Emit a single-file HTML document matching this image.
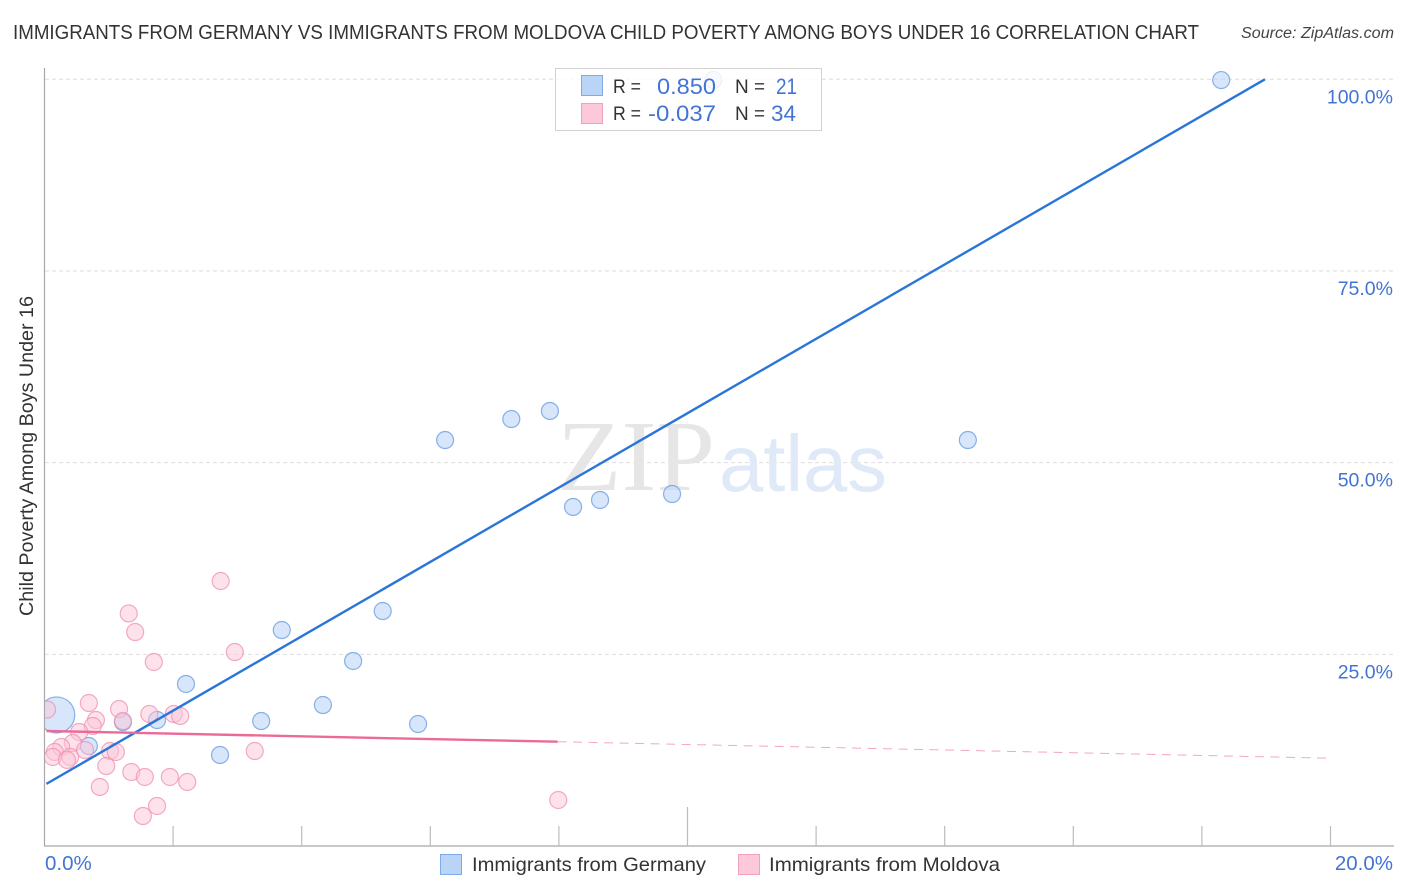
<!DOCTYPE html>
<html lang="en">
<head>
<meta charset="utf-8">
<title>Immigrants from Germany vs Immigrants from Moldova Child Poverty Among Boys Under 16 Correlation Chart</title>
<style>
html,body{margin:0;padding:0;background:#fff;width:1406px;height:892px;overflow:hidden}
svg{display:block;font-family:"Liberation Sans",sans-serif}
</style>
</head>
<body>
<svg id="chart" xmlns="http://www.w3.org/2000/svg" width="1406" height="892" viewBox="0 0 1406 892">
  <defs><clipPath id="plot-clip"><rect x="45" y="60" width="1349" height="786"/></clipPath></defs>
  <rect x="0" y="0" width="1406" height="892" fill="#fff"/>
  <text x="13" y="39" font-size="20" fill="#333" textLength="1186" lengthAdjust="spacingAndGlyphs">IMMIGRANTS FROM GERMANY VS IMMIGRANTS FROM MOLDOVA CHILD POVERTY AMONG BOYS UNDER 16 CORRELATION CHART</text>
  <text x="1241" y="38" font-size="15.5" font-style="italic" fill="#444" textLength="153" lengthAdjust="spacingAndGlyphs">Source: ZipAtlas.com</text>
  <text transform="translate(33,616) rotate(-90)" font-size="19" fill="#333" textLength="320" lengthAdjust="spacingAndGlyphs">Child Poverty Among Boys Under 16</text>
  <g id="grid"></g>
  <text x="557" y="490" font-family="'Liberation Serif',serif" font-size="101" fill="#e6e6e6" textLength="158" lengthAdjust="spacingAndGlyphs">ZIP</text>
  <text x="719" y="491" font-size="80" fill="#dfe9f8" textLength="168" lengthAdjust="spacingAndGlyphs">atlas</text>
  <g id="axes"></g>
  <g id="ylabels" font-size="19.5" fill="#4274d4" text-anchor="end"></g>
  <g id="xlabels" font-size="20.5" fill="#4274d4"></g>
  <g id="marks" clip-path="url(#plot-clip)"></g>
  <g>
    <rect x="555.5" y="68.5" width="266" height="62" fill="#fff" fill-opacity="0.82" stroke="#d2d2d2" stroke-width="1"/>
    <rect x="581.5" y="75.5" width="21" height="20" fill="#b9d4f7" stroke="#7fabe6"/>
    <rect x="581.5" y="103.5" width="21" height="20" fill="#fdc8da" stroke="#f2a0bb"/>
    <g font-size="19.5" fill="#333">
      <text x="613" y="93" textLength="28" lengthAdjust="spacingAndGlyphs">R =</text>
      <text x="613" y="120" textLength="28" lengthAdjust="spacingAndGlyphs">R =</text>
      <text x="735" y="93" textLength="30" lengthAdjust="spacingAndGlyphs">N =</text>
      <text x="735" y="120" textLength="30" lengthAdjust="spacingAndGlyphs">N =</text>
    </g>
    <g font-size="22" fill="#4274d4">
      <text x="657" y="94" textLength="59" lengthAdjust="spacingAndGlyphs">0.850</text>
      <text x="648" y="121" textLength="68" lengthAdjust="spacingAndGlyphs">-0.037</text>
      <text x="776" y="94" textLength="21" lengthAdjust="spacingAndGlyphs">21</text>
      <text x="771" y="121" textLength="25" lengthAdjust="spacingAndGlyphs">34</text>
    </g>
  </g>
  <g>
    <rect x="440.5" y="854.5" width="21" height="20" fill="#b9d4f7" stroke="#7fabe6"/>
    <text x="472" y="871" font-size="19.5" fill="#333" textLength="234" lengthAdjust="spacingAndGlyphs">Immigrants from Germany</text>
    <rect x="738.5" y="854.5" width="21" height="20" fill="#fdc8da" stroke="#f2a0bb"/>
    <text x="769" y="871" font-size="19.5" fill="#333" textLength="231" lengthAdjust="spacingAndGlyphs">Immigrants from Moldova</text>
  </g>
</svg>
<script>
const yTicks = [25, 50, 75, 100];
const yTickLabels = ["25.0%", "50.0%", "75.0%", "100.0%"];
const xTicks = [2, 4, 6, 8, 10, 12, 14, 16, 18, 20];
const xEndTicks = [0, 20];
const xEndLabels = ["0.0%", "20.0%"];

const germanyX = [0.19,0.69,1.22,1.75,2.20,2.73,3.37,3.69,4.33,4.80,5.26,5.81,6.23,7.26,7.86,8.22,8.64,9.76,10.40,14.36,18.30];
const germanyY = [17.09,13.04,16.17,16.43,21.13,11.87,16.30,28.17,18.39,24.13,30.65,15.91,52.95,55.69,56.74,44.22,45.13,45.91,99.9,52.95,99.9];
const germanyWeight = [4.5,1,1,1,1,1,1,1,1,1,1,1,1,1,1,1,1,1,1,1,1];

const moldovaX = [2.74,1.31,1.41,2.96,1.70,0.69,1.16,0.04,1.63,2.01,2.11,0.80,1.22,0.75,0.54,0.44,0.26,0.16,0.13,0.40,0.35,0.63,1.02,1.11,3.27,0.96,1.35,1.56,1.95,2.22,0.86,1.75,1.53,7.99];
const moldovaY = [34.56,30.33,27.91,25.30,24.0,18.65,17.87,17.80,17.22,17.22,16.96,16.43,16.30,15.65,14.87,13.43,12.91,12.26,11.61,11.61,11.22,12.52,12.39,12.26,12.39,10.43,9.65,9.0,9.0,8.35,7.70,5.22,3.91,6.0];

const germanyTrendX = [0.03, 18.98];
const germanyTrendY = [8.1, 100];
const moldovaTrendX = [0.03, 7.98];
const moldovaTrendY = [15.0, 13.6];
const moldovaForecastX = [7.98, 20];
const moldovaForecastY = [13.6, 11.45];

const NS = "http://www.w3.org/2000/svg";
const xScale = function (v) { return 44.5 + v * 64.3; };
const yScale = function (v) { return 846 - v * 7.667; };

function make(tag, parent, props) {
  const el = document.createElementNS(NS, tag);
  for (const k in props) el.setAttribute(k, props[k]);
  parent.appendChild(el);
  return el;
}

const grid = document.getElementById("grid");
const axes = document.getElementById("axes");
const ylabels = document.getElementById("ylabels");
const xlabels = document.getElementById("xlabels");
const marks = document.getElementById("marks");

yTicks.forEach(function (t, i) {
  const y = yScale(t);
  const line = make("line", grid, {x1: 45, x2: 1393, y1: y, y2: y, stroke: "#dedede", "stroke-width": 1, "stroke-dasharray": "4 3"});
  
  
  const label = make("text", ylabels, {x: 1393, y: y + 24});
  label.textContent = yTickLabels[i];
  
  
});

const yAxisLine = make("line", axes, {x1: 44.5, x2: 44.5, y1: 68, y2: 846, stroke: "#a8a8a8", "stroke-width": 1.2});


const xAxisLine = make("line", axes, {x1: 44, x2: 1394, y1: 846, y2: 846, stroke: "#a8a8a8", "stroke-width": 1.2});



xTicks.forEach(function (t) {
  const x = xScale(t);
  const top = t === 10 ? 807 : 826;
  const tick = make("line", axes, {x1: x, x2: x, y1: top, y2: 846, stroke: "#bcbcbc", "stroke-width": 1.2});
  
  
});

xEndTicks.forEach(function (t, i) {
  const label = i === 0
    ? make("text", xlabels, {x: xScale(t) + 0.5, y: 870})
    : make("text", xlabels, {x: 1393, y: 870, "text-anchor": "end"});
  label.textContent = xEndLabels[i];
  
  
});

germanyX.forEach(function (v, i) {
  const c = make("circle", marks, {cx: xScale(v), cy: yScale(germanyY[i]), r: 8.5 * Math.sqrt(germanyWeight[i]), fill: "#bcd5f6", "fill-opacity": 0.6, stroke: "#6d9fe2", "stroke-opacity": 0.8, "stroke-width": 1.2});
  
  
});

moldovaX.forEach(function (v, i) {
  const c = make("circle", marks, {cx: xScale(v), cy: yScale(moldovaY[i]), r: 8.5, fill: "#fcc6d8", "fill-opacity": 0.5, stroke: "#ef8fb0", "stroke-opacity": 0.75, "stroke-width": 1.2});
  
  
});

const germanyTrend = make("line", marks, {x1: xScale(germanyTrendX[0]), y1: yScale(germanyTrendY[0]), x2: xScale(germanyTrendX[1]), y2: yScale(germanyTrendY[1]), stroke: "#2a75d8", "stroke-width": 2.4});



const moldovaTrend = make("line", marks, {x1: xScale(moldovaTrendX[0]), y1: yScale(moldovaTrendY[0]), x2: xScale(moldovaTrendX[1]), y2: yScale(moldovaTrendY[1]), stroke: "#ec6a98", "stroke-width": 2.4});



const moldovaForecast = make("line", marks, {x1: xScale(moldovaForecastX[0]), y1: yScale(moldovaForecastY[0]), x2: xScale(moldovaForecastX[1]), y2: yScale(moldovaForecastY[1]), stroke: "#ec6a98", "stroke-opacity": 0.6, "stroke-width": 1, "stroke-dasharray": "9 6.5"});


</script>
</body>
</html>
